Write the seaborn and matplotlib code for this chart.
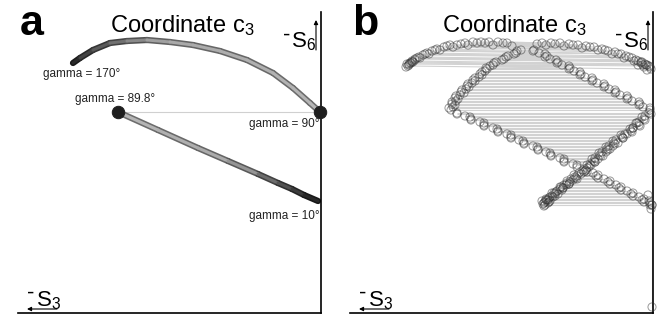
import matplotlib
matplotlib.use("Agg")
import matplotlib.pyplot as plt
from matplotlib.collections import LineCollection
import numpy as np
import pandas as pd
import seaborn as sns

# ---- panel a : the two solution branches (s3 grows to the left, s6 upwards)
arc_gamma = [170, 164, 158, 152, 146, 140, 134, 128, 122, 116, 110, 103, 96, 90]
arc_s3 = [248, 241, 228, 211, 194, 174, 151, 128, 101, 74, 48, 28, 11, 1]
arc_s6 = [250, 255, 263, 270, 272, 273, 271, 268, 262, 253, 240, 225, 210, 201]

line_gamma = [89.8, 74, 58, 46, 34, 26, 20, 15, 10]
line_s3 = [203, 163, 123, 93, 63, 43, 29, 17, 3]
line_s6 = [201, 183, 165, 152, 139, 130, 124, 118, 112]

end_s3 = [203, 1]
end_s6 = [201, 201]

labels = ["gamma = 170°", "gamma = 89.8°", "gamma = 90°", "gamma = 10°"]
label_s3 = [239, 206, 37, 37]
label_s6 = [239, 214, 189, 97]

# ---- panel b : sampled pairs (left point, right point)
top_xl = [245, 243, 240, 236, 233, 228, 224, 218, 213, 206, 200, 192, 185, 176, 168, 160, 150, 141,
          244, 241, 238, 234, 230, 226, 221, 216, 209, 203, 196, 188, 180, 172, 164, 155, 146]
top_yl = [247, 250, 251, 255, 255, 259, 259, 263, 263, 267, 266, 269, 268, 270, 270, 268, 270, 267,
          249, 252, 254, 256, 258, 260, 262, 264, 266, 268, 268, 270, 271, 271, 271, 271, 270]
top_xr = [2, 6, 10, 15, 19, 24, 29, 35, 41, 48, 55, 63, 71, 80, 89, 98, 107, 116,
          4, 8, 12, 17, 21, 27, 32, 38, 45, 51, 59, 67, 75, 84, 93, 102, 111]
top_yr = [244, 248, 248, 252, 252, 256, 255, 259, 259, 263, 263, 266, 265, 268, 267, 269, 268, 269,
          247, 249, 251, 253, 255, 257, 259, 261, 262, 264, 266, 267, 268, 269, 270, 270, 270]

up_y = [263, 260, 257, 254, 251, 248, 245, 242, 239, 236, 233, 230, 227, 224, 221, 218, 215, 212, 209, 206, 203,
        262, 259, 256, 253, 250, 247, 244, 241, 238, 235, 232, 229, 226, 223, 220, 217, 214, 211, 208, 205]
up_xl = [132, 137, 145, 149, 157, 160, 167, 168, 173, 174, 180, 181, 186, 187, 192, 193, 198, 197, 201, 200, 202,
         136, 139, 147, 151, 159, 163, 166, 171, 171, 178, 178, 185, 184, 191, 189, 197, 195, 201, 198, 204]
up_xr = [119, 114, 106, 103, 95, 91, 83, 79, 72, 68, 60, 56, 48, 44, 37, 33, 25, 21, 13, 10, 3,
         120, 108, 108, 97, 96, 84, 84, 73, 73, 61, 61, 49, 49, 38, 38, 26, 26, 14, 14, 3]

low_y = [200, 197, 194, 191, 188, 185, 182, 179, 176, 173, 170, 167, 164, 161, 158, 155, 152, 149, 146,
         199, 196, 193, 190, 187, 184, 181, 178, 175, 172, 169, 166, 163, 160, 157, 154, 151, 148]
low_xl = [196, 188, 182, 173, 169, 160, 155, 146, 142, 134, 129, 120, 115, 107, 102, 93, 89, 80, 76,
          196, 183, 182, 169, 169, 156, 155, 142, 142, 130, 129, 116, 115, 103, 102, 89, 89, 76]
low_xr = [4, 8, 9, 14, 14, 20, 22, 28, 31, 37, 39, 44, 46, 51, 53, 58, 59, 63, 64,
          2, 11, 8, 17, 13, 23, 21, 32, 30, 40, 38, 47, 45, 54, 52, 61, 58, 66]

tri_y = [143, 140, 137, 134, 131, 128, 125, 122, 119, 116, 113, 110, 108,
         141, 138, 135, 132, 129, 126, 123, 120, 117, 114, 111]
tri_xl = [70, 74, 76, 82, 83, 89, 90, 96, 98, 103, 105, 109, 108,
          69, 79, 77, 86, 84, 93, 91, 101, 98, 107, 104]
tri_xr = [67, 60, 57, 49, 45, 37, 34, 26, 22, 14, 11, 3, 1,
          66, 55, 55, 43, 43, 32, 32, 20, 20, 9, 9]

tail_x = [1, 1]
tail_y = [108, 6]

extra_x = [108, 110, 106, 104, 101, 99, 97, 93, 92, 87, 86, 80, 78, 72, 68, 66, 62, 58, 55,
           50, 47, 43, 40, 35, 30, 26, 20, 16, 244, 241, 238, 9, 6, 12, 4, 3, 2, 5,
           107, 109, 105, 111, 103, 100, 95, 90, 84, 76, 246, 247, 242, 7, 3, 15, 11]
extra_y = [111, 109, 113, 115, 117, 120, 121, 124, 126, 128, 130, 133, 136, 139, 142, 145, 148, 151, 154,
           157, 161, 164, 167, 170, 175, 179, 185, 190, 248, 251, 253, 246, 243, 250, 112, 108, 104, 118,
           113, 107, 110, 112, 112, 116, 119, 125, 129, 134, 249, 246, 250, 248, 246, 248, 251]

W, H = 664, 320


def fx(px):
    return px / W


def fy(py):
    return 1 - py / H


def shade(g):
    d = abs(g - 90)
    return float(np.interp(d, [0, 45, 80], [0.6, 0.55, 0.1]))


def tube(ax, xs, ys, gs):
    segs, outer, inner = [], [], []
    for i in range(len(xs) - 1):
        segs.append([(xs[i], ys[i]), (xs[i + 1], ys[i + 1])])
        s = shade((gs[i] + gs[i + 1]) / 2)
        outer.append((s * 0.72,) * 3)
        c = min(s * 1.2, 0.78)
        inner.append((c,) * 3)
    ax.add_collection(LineCollection(segs, colors=outer, linewidths=4.5,
                                     capstyle='round', joinstyle='round', zorder=2))
    ax.add_collection(LineCollection(segs, colors=inner, linewidths=2.2,
                                     capstyle='round', joinstyle='round', zorder=3))


sns.set_style('white')
plt.rcParams['font.family'] = ['Liberation Sans', 'DejaVu Sans']
plt.rcParams['mathtext.fontset'] = 'custom'
plt.rcParams['mathtext.rm'] = 'Liberation Sans'
plt.rcParams['mathtext.it'] = 'Liberation Sans'
plt.rcParams['mathtext.bf'] = 'Liberation Sans:bold'
plt.rcParams['text.color'] = 'black'

fig = plt.figure(figsize=(W / 100, H / 100), dpi=100)
ax_a = fig.add_axes([fx(18), fy(313), 303 / W, 301 / H])
ax_b = fig.add_axes([fx(350), fy(313), 303 / W, 301 / H])

# panel a
ax_a.plot(end_s3, end_s6, color='#d0d0d0', lw=0.8, zorder=1)
tube(ax_a, arc_s3, arc_s6, arc_gamma)
tube(ax_a, line_s3, line_s6, line_gamma)
sns.scatterplot(x=end_s3, y=end_s6, ax=ax_a, color='#1e1e1e', s=80,
                edgecolor='#1e1e1e', zorder=5, clip_on=False, legend=False)
for t, x, y in zip(labels, label_s3, label_s6):
    ax_a.text(x, y, t, fontsize=8.5, ha='center', va='center', color='#222222', zorder=6)

# panel b
pairs = []
for xl, yl, xr, yr in [(top_xl, top_yl, top_xr, top_yr),
                       (up_xl, up_y, up_xr, up_y),
                       (low_xl, low_y, low_xr, low_y),
                       (tri_xl, tri_y, tri_xr, tri_y)]:
    for a, b, c, d in zip(xl, yl, xr, yr):
        pairs.append([(a, b), (c, d)])
pairs.append([(tail_x[0], tail_y[0]), (tail_x[1], tail_y[1])])
ax_b.add_collection(LineCollection(pairs, colors='#d2d2d2', linewidths=0.8, zorder=1))

pts = pd.DataFrame({
    's3': top_xl + top_xr + up_xl + up_xr + low_xl + low_xr + tri_xl + tri_xr + tail_x + extra_x,
    's6': top_yl + top_yr + up_y + up_y + low_y + low_y + tri_y + tri_y + tail_y + extra_y,
})
sns.scatterplot(data=pts, x='s3', y='s6', ax=ax_b, s=34, facecolor='none',
                edgecolor='#333333', linewidth=0.7, alpha=0.5, zorder=3,
                clip_on=False, legend=False)

for ax in (ax_a, ax_b):
    ax.set_xlim(303, 0)
    ax.set_ylim(0, 301)
    ax.set_xticks([])
    ax.set_yticks([])
    ax.set_xlabel('')
    ax.set_ylabel('')
    for side in ('left', 'top'):
        ax.spines[side].set_visible(False)
    for side in ('right', 'bottom'):
        ax.spines[side].set_color('black')
        ax.spines[side].set_linewidth(1.2)

# decorations
for off, tag in ((0, 'a'), (332, 'b')):
    fig.text(fx(20 + off), fy(35), tag, fontsize=31, fontweight='bold', va='baseline')
    fig.text(fx(110 + off), fy(32), r'Coordinate $\mathrm{c_3}$', fontsize=17, va='baseline')
    fig.text(fx(283 + off), fy(41), '-', fontsize=16, va='baseline')
    fig.text(fx(291 + off), fy(47), r'S$\mathrm{_6}$', fontsize=16, va='baseline')
    fig.text(fx(27 + off), fy(299), '-', fontsize=16, va='baseline')
    fig.text(fx(36 + off), fy(306), r'S$\mathrm{_3}$', fontsize=16, va='baseline')
    fig.add_artist(plt.Annotation('', xy=(fx(316 + off), fy(20)), xytext=(fx(316 + off), fy(50)),
                                  xycoords='figure fraction',
                                  arrowprops=dict(arrowstyle='-|>', lw=0.8, color='black',
                                                  mutation_scale=6, shrinkA=0, shrinkB=0)))
    fig.add_artist(plt.Annotation('', xy=(fx(27 + off), fy(309)), xytext=(fx(57 + off), fy(309)),
                                  xycoords='figure fraction',
                                  arrowprops=dict(arrowstyle='-|>', lw=0.8, color='black',
                                                  mutation_scale=6, shrinkA=0, shrinkB=0)))

fig.savefig('out.png', dpi=100)
